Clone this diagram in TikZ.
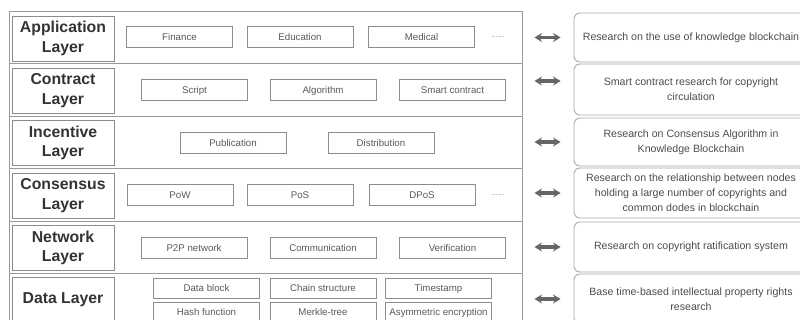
\documentclass[tikz,border=0pt]{standalone}
\usepackage{fontspec}
\setmainfont{Liberation Sans}
\usetikzlibrary{arrows.meta}

\begin{document}
\begin{tikzpicture}[x=1pt, y=-1pt,
	layerrow/.style={draw=black!40, line width=0.35mm, minimum width=513pt, inner sep=0pt},
	layerlabel/.style={draw=black!45, line width=0.3mm, minimum width=102pt, minimum height=45pt, inner sep=0pt, align=center, text=black!80, font=\fontsize{15.8}{19.5}\selectfont\bfseries},
	item/.style={draw=black!45, line width=0.3mm, minimum width=106pt, minimum height=21pt, inner sep=0pt, text height=7.6pt, text depth=0.8pt, text=black!65, font=\fontsize{9.7}{11}\selectfont},
	moredots/.style={inner sep=0pt, text=black!45, font=\fontsize{8}{8}\selectfont},
	research/.style={draw=black!35, line width=0.3mm, rounded corners=6pt, minimum width=234pt, inner sep=0pt, align=center, text=black!70, font=\fontsize{10.6}{15}\selectfont},
	biarrow/.style={{Stealth[length=7.5pt,width=9pt]}-{Stealth[length=7.5pt,width=9pt]}, line width=1.15mm, draw=black!60, shorten <=12pt, shorten >=13pt}]
			%%%%% START %%%%%
			
			\useasboundingbox (0, 0) rectangle (800, 320);
			\clip (0, 0) rectangle (800, 320);
			
			\node[layerrow, minimum height=51.5pt] (row1) at (265.5, 37.75) {};
			\node[layerrow, minimum height=53pt] (row2) at (265.5, 90) {};
			\node[layerrow, minimum height=52pt] (row3) at (265.5, 142.5) {};
			\node[layerrow, minimum height=53pt] (row4) at (265.5, 195) {};
			\node[layerrow, minimum height=52pt] (row5) at (265.5, 247.5) {};
			\node[layerrow, minimum height=61.5pt] (row6) at (265.5, 304.25) {};
			
			\node[layerlabel] (app) at (63, 38.5) {Application\\Layer};
			\node[layerlabel] (contract) at (63, 90.5) {Contract\\Layer};
			\node[layerlabel] (incentive) at (63, 143) {Incentive\\Layer};
			\node[layerlabel] (consensus) at (63, 195.5) {Consensus\\Layer};
			\node[layerlabel] (network) at (63, 248) {Network\\Layer};
			\node[layerlabel] (data) at (63, 300) {Data Layer};
			
			% application
			\node[item] (finance) at (179.5, 37) {Finance};
			\node[item] (education) at (300, 37) {Education};
			\node[item] (medical) at (421.5, 37) {Medical};
			\node[moredots] (dots1) at (498, 37) {......};
			
			% contract
			\node[item] (script) at (194.5, 90) {Script};
			\node[item] (algorithm) at (323, 90) {Algorithm};
			\node[item] (smart) at (452.5, 90) {Smart contract};
			
			% incentive
			\node[item] (publication) at (233, 143) {Publication};
			\node[item] (distribution) at (381, 143) {Distribution};
			
			% consensus
			\node[item] (pow) at (180, 195) {PoW};
			\node[item] (pos) at (300, 195) {PoS};
			\node[item] (dpos) at (422, 195) {DPoS};
			\node[moredots] (dots2) at (498, 195) {......};
			
			% network
			\node[item] (ptp) at (194, 248) {P2P network};
			\node[item] (communication) at (323, 248) {Communication};
			\node[item] (verification) at (452.5, 248) {Verification};
			
			% data
			\node[item, minimum height=20pt] (block) at (206.5, 288) {Data block};
			\node[item, minimum height=20pt] (chain) at (323, 288) {Chain structure};
			\node[item, minimum height=20pt] (timestamp) at (438.5, 288) {Timestamp};
			\node[item, minimum height=20pt] (hash) at (206.5, 312) {Hash function};
			\node[item, minimum height=20pt] (merkle) at (323, 312) {Merkle-tree};
			\node[item, minimum height=20pt] (asym) at (438.5, 312) {Asymmetric encryption};
			
			% research topics
			\node[research, minimum height=49pt] (res1) at (691, 37.5) {Research on the use of knowledge blockchain};
			\node[research, minimum height=51pt] (res2) at (691, 89.5) {Smart contract research for copyright\\circulation};
			\node[research, minimum height=48pt] (res3) at (691, 142) {Research on Consensus Algorithm in\\Knowledge Blockchain};
			\node[research, minimum height=50pt] (res4) at (691, 193) {Research on the relationship between nodes\\holding a large number of copyrights and\\common dodes in blockchain};
			\node[research, minimum height=50pt] (res5) at (691, 247) {Research on copyright ratification system};
			\node[research, minimum height=50pt] (res6) at (691, 299) {Base time-based intellectual property rights\\research};
			
			\coordinate (res2in) at ([yshift=8.5pt]res2.west);
			
			\draw[biarrow] (row1.east |- res1.west) -- (res1.west);
			\draw[biarrow] (row2.east |- res2in) -- (res2in);
			\draw[biarrow] (row3.east |- res3.west) -- (res3.west);
			\draw[biarrow] (row4.east |- res4.west) -- (res4.west);
			\draw[biarrow] (row5.east |- res5.west) -- (res5.west);
			\draw[biarrow] (row6.east |- res6.west) -- (res6.west);
			
			%%%%% END %%%%%
\end{tikzpicture}
\end{document}
